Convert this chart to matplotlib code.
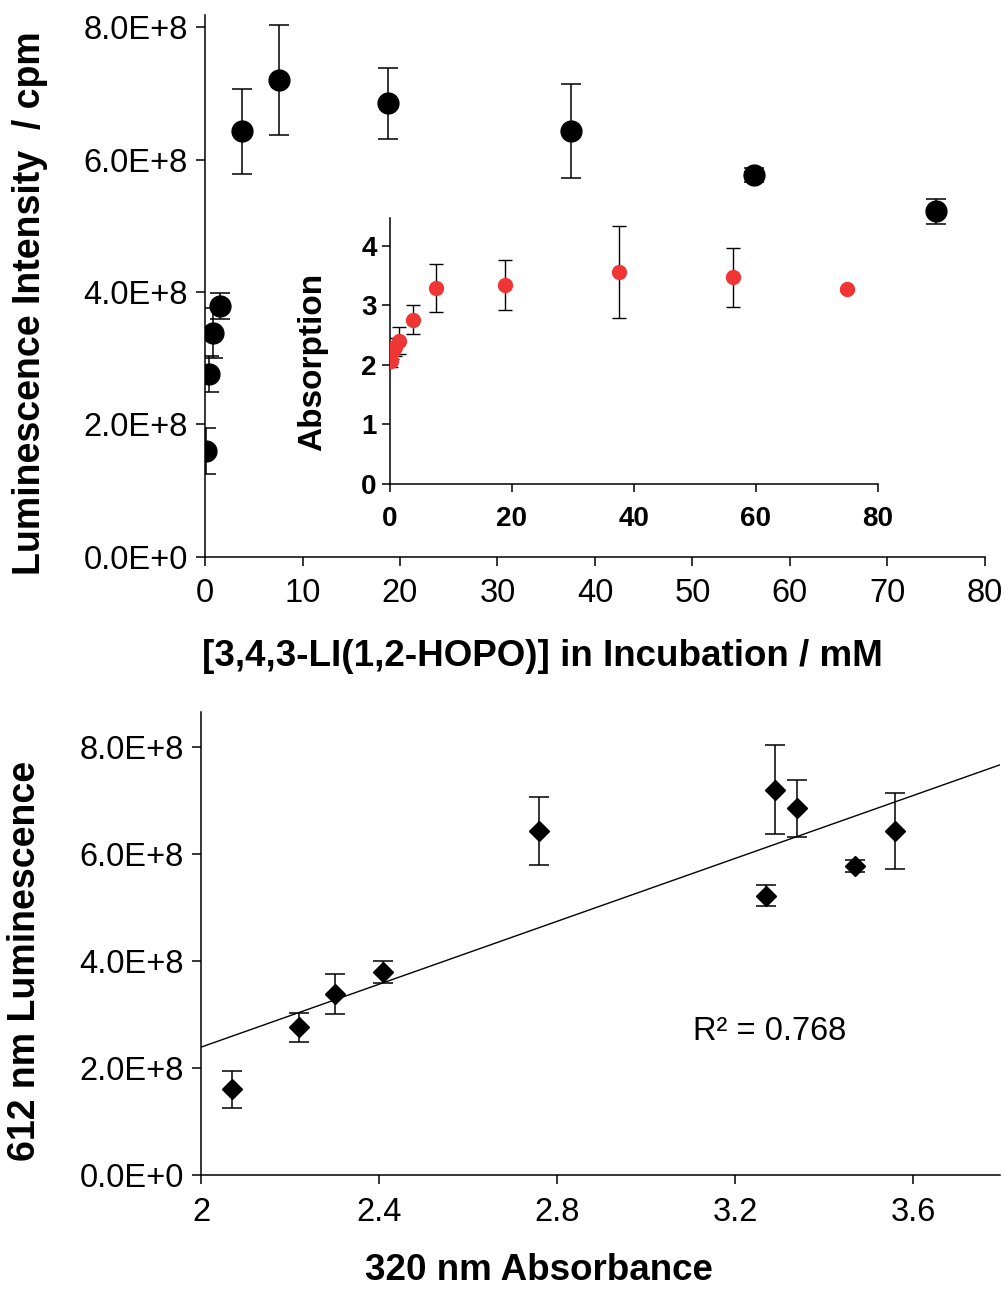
import numpy as np
import matplotlib
matplotlib.use("Agg")
import matplotlib.pyplot as plt

plt.rcParams['font.family'] = ['Liberation Sans', 'DejaVu Sans']

# ---- data ----
conc_mM = [0.1, 0.4, 0.8, 1.5, 3.8, 7.6, 18.8, 37.5, 56.3, 75.0]
lum = [1.60e8, 2.76e8, 3.38e8, 3.79e8, 6.43e8, 7.20e8, 6.85e8, 6.43e8, 5.77e8, 5.22e8]
lum_err = [0.35e8, 0.27e8, 0.38e8, 0.20e8, 0.64e8, 0.83e8, 0.53e8, 0.71e8, 0.11e8, 0.19e8]

absorb = [2.07, 2.22, 2.30, 2.41, 2.76, 3.29, 3.34, 3.56, 3.47, 3.27]
absorb_err = [0.10, 0.12, 0.15, 0.23, 0.24, 0.40, 0.42, 0.78, 0.49, 0.03]

r2_text = "R\u00b2 = 0.768"

lum_ticks = [0, 2e8, 4e8, 6e8, 8e8]
lum_ticklabels = ["0.0E+0", "2.0E+8", "4.0E+8", "6.0E+8", "8.0E+8"]
conc_ticks = [0, 10, 20, 30, 40, 50, 60, 70, 80]
inset_xticks = [0, 20, 40, 60, 80]
inset_yticks = [0, 1, 2, 3, 4]
abs_ticks = [2.0, 2.4, 2.8, 3.2, 3.6]
abs_ticklabels = ["2", "2.4", "2.8", "3.2", "3.6"]

W, H = 1005, 1289
fig = plt.figure(figsize=(W / 100, H / 100), dpi=100)

def ftext(px, py, s, **kw):
    fig.text(px / W, 1 - py / H, s, ha='center', va='center', **kw)

def style(ax, lw=1.1, tl=6.5):
    for s in ['top', 'right']:
        ax.spines[s].set_visible(False)
    for s in ['left', 'bottom']:
        ax.spines[s].set_linewidth(lw)
    ax.tick_params(direction='out', length=tl, width=lw)

# ---- top panel ----
ax1 = fig.add_axes([0.204, 0.568, 0.776, 0.420])
style(ax1)
ax1.errorbar(conc_mM, lum, yerr=lum_err, fmt='o', color='black', ms=15,
             ecolor='black', elinewidth=1.1, capsize=7, capthick=1.1, zorder=3)
ax1.set_xlim(0, 80)
ax1.set_ylim(0, 8.18e8)
ax1.set_xticks(conc_ticks)
ax1.set_yticks(lum_ticks)
ax1.set_yticklabels(lum_ticklabels)
ax1.tick_params(labelsize=23.5, pad=6)
ax1.tick_params(axis='x', pad=9)
ftext(30, 303, "Luminescence Intensity  / cpm", fontsize=27, fontweight='bold', rotation=90)
ftext(542, 657, "[3,4,3-LI(1,2-HOPO)] in Incubation / mM", fontsize=26.5, fontweight='bold')

# ---- inset ----
ax2 = fig.add_axes([0.388, 0.6245, 0.4856, 0.2065])
style(ax2, lw=1.1, tl=6)
ax2.patch.set_alpha(0)
ax2.errorbar(conc_mM, absorb, yerr=absorb_err, fmt='o', color='#f03535', ms=10,
             ecolor='black', elinewidth=1.0, capsize=5, capthick=1.0, zorder=3)
ax2.set_xlim(0, 80)
ax2.set_ylim(0, 4.47)
ax2.set_xticks(inset_xticks)
ax2.set_yticks(inset_yticks)
for lab in ax2.get_xticklabels() + ax2.get_yticklabels():
    lab.set_fontweight('bold')
ax2.tick_params(labelsize=20)
ax2.tick_params(axis='x', pad=10)
ftext(313, 362, "Absorption", fontsize=24, fontweight='bold', rotation=90)

# ---- bottom panel ----
ax3 = fig.add_axes([0.200, 0.0884, 0.795, 0.3592])
style(ax3)
xlo, xhi = 2.0, 3.795
slope, intercept = np.polyfit(absorb, lum, 1)
xs = np.array([xlo, xhi])
ax3.plot(xs, slope * xs + intercept, color='black', lw=1.0, zorder=2)
ax3.errorbar(absorb, lum, yerr=lum_err, fmt='D', color='black', ms=10,
             ecolor='black', elinewidth=1.1, capsize=7, capthick=1.1, zorder=3)
ax3.set_xlim(xlo, xhi)
ax3.set_ylim(0, 8.65e8)
ax3.set_xticks(abs_ticks)
ax3.set_xticklabels(abs_ticklabels)
ax3.set_yticks(lum_ticks)
ax3.set_yticklabels(lum_ticklabels)
ax3.tick_params(labelsize=23.5, pad=6)
ax3.tick_params(axis='x', pad=9)
ax3.text(3.106, 2.69e8, r2_text, fontsize=23.5, ha='left', va='center')
ftext(25, 961, "612 nm Luminescence", fontsize=27, fontweight='bold', rotation=90)
ftext(539, 1271, "320 nm Absorbance", fontsize=26.5, fontweight='bold')

fig.savefig("out.png", dpi=100)
